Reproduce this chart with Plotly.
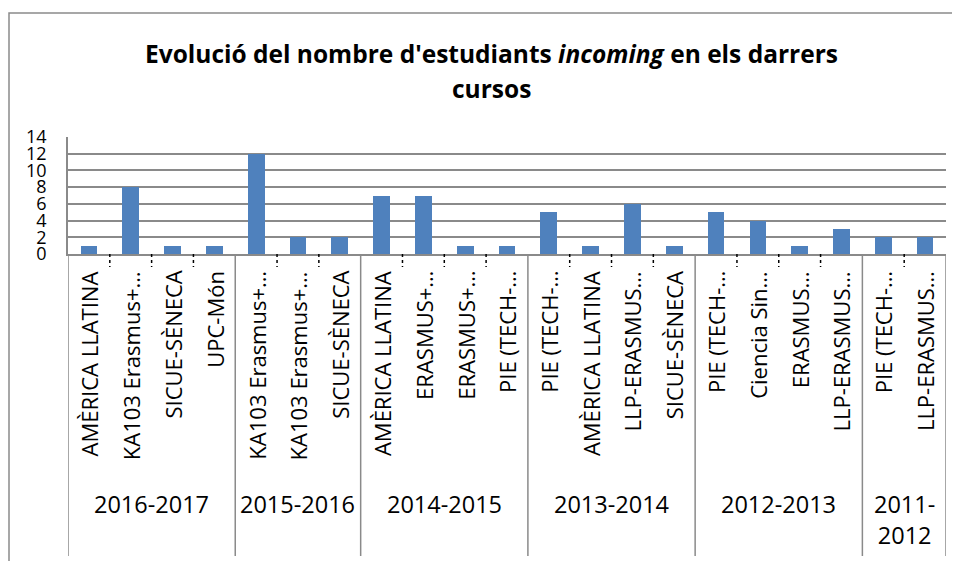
import plotly.graph_objects as go

# ---- data ----
years = ["2016-2017"] * 4 + ["2015-2016"] * 3 + ["2014-2015"] * 4 + ["2013-2014"] * 4 + ["2012-2013"] * 4 + ["2011-2012"] * 2
programs = [
    "AMÈRICA LLATINA", "KA103 Erasmus+…", "SICUE-SÈNECA", "UPC-Món",
    "KA103 Erasmus+…", "KA103 Erasmus+…", "SICUE-SÈNECA",
    "AMÈRICA LLATINA", "ERASMUS+…", "ERASMUS+…", "PIE (TECH-…",
    "PIE (TECH-…", "AMÈRICA LLATINA", "LLP-ERASMUS…", "SICUE-SÈNECA",
    "PIE (TECH-…", "Ciencia Sin…", "ERASMUS…", "LLP-ERASMUS…",
    "PIE (TECH-…", "LLP-ERASMUS…",
]
values = [1, 8, 1, 1, 12, 2, 2, 7, 7, 1, 1, 5, 1, 6, 1, 5, 4, 1, 3, 2, 2]
year_labels = {"2011-2012": "2011-<br>2012"}
y_ticks = [0, 2, 4, 6, 8, 10, 12, 14]

FONT = "'Open Sans', sans-serif"
GRID = "#8a8a8a"
OFF = 8  # default page body margin
W, H = 960 - OFF, 561 - OFF
ML, MR, MT, MB = 68 - OFF, 960 - 946, 137 - OFF, 561 - 254
PH = H - MT - MB  # plot height in px
PW = W - ML - MR
AX = H - MB       # figure pixel y of axis


def py(ypage):
    return (AX - (ypage - OFF)) / PH


def px(xpage):
    return ((xpage - OFF) - ML) / PW


n = len(values)
xs = list(range(n))

fig = go.Figure()
fig.add_trace(go.Bar(x=xs, y=values, width=0.4, marker=dict(color="#4F81BD", line=dict(width=0)),
                     hoverinfo="y"))

annotations = []
shapes = []

# category labels
for i, p in enumerate(programs):
    annotations.append(dict(x=i, xref="x", y=py(269), yref="paper", text=p, textangle=-90,
                            showarrow=False, xanchor="center", yanchor="top",
                            font=dict(family=FONT, size=22, color="black")))

# groups
groups = []
for i, yv in enumerate(years):
    if not groups or groups[-1][0] != yv:
        groups.append([yv, i, i])
    else:
        groups[-1][2] = i

bottom = py(556)
for g, start, end in groups:
    annotations.append(dict(x=(start + end) / 2, xref="x", y=py(486), yref="paper",
                            text=year_labels.get(g, g), showarrow=False, xanchor="center", yanchor="top",
                            font=dict(family=FONT, size=23.5, color="black")))
    shapes.append(dict(type="line", xref="x", yref="paper", x0=start - 0.5, x1=start - 0.5,
                       y0=0, y1=bottom, line=dict(color=GRID, width=1.5)))
    for k in range(start, end):
        shapes.append(dict(type="line", xref="x", yref="paper", x0=k + 0.5, x1=k + 0.5,
                           y0=0, y1=py(267), line=dict(color="black", width=1.5, dash="dot")))
shapes.append(dict(type="line", xref="x", yref="paper", x0=n - 0.5, x1=n - 0.5,
                   y0=0, y1=bottom, line=dict(color=GRID, width=1.5)))

# outer chart border
shapes.append(dict(type="rect", xref="paper", yref="paper", x0=px(9), x1=px(1000), y0=py(620), y1=py(13),
                   line=dict(color=GRID, width=1.5), fillcolor="rgba(0,0,0,0)", layer="below"))

# title
annotations.append(dict(x=px(491), xref="paper", y=py(53), yref="paper", yanchor="middle",
                        text="<b>Evolució del nombre d'estudiants <i>incoming</i> en els darrers</b>",
                        showarrow=False, font=dict(family=FONT, size=24.5, color="black")))
annotations.append(dict(x=px(491), xref="paper", y=py(88), yref="paper", yanchor="middle",
                        text="<b>cursos</b>", showarrow=False, font=dict(family=FONT, size=24.5, color="black")))

fig.update_layout(
    width=W, height=H,
    margin=dict(l=ML, r=MR, t=MT, b=MB, autoexpand=False),
    paper_bgcolor="white", plot_bgcolor="white",
    showlegend=False,
    bargap=0,
    annotations=annotations,
    shapes=shapes,
    xaxis=dict(range=[-0.5, n - 0.5], showticklabels=False, showgrid=False, zeroline=False,
               showline=True, linecolor=GRID, linewidth=1.5, ticks="", automargin=False),
    yaxis=dict(range=[0, 14], tickvals=y_ticks, showgrid=True, gridcolor=GRID, gridwidth=1.5,
               zeroline=False, showline=True, linecolor=GRID, linewidth=1.5, ticks="",
               automargin=False,
               ticklabelstandoff=16, tickfont=dict(family=FONT, size=18, color="black")),
)

fig.write_html("out.html")
